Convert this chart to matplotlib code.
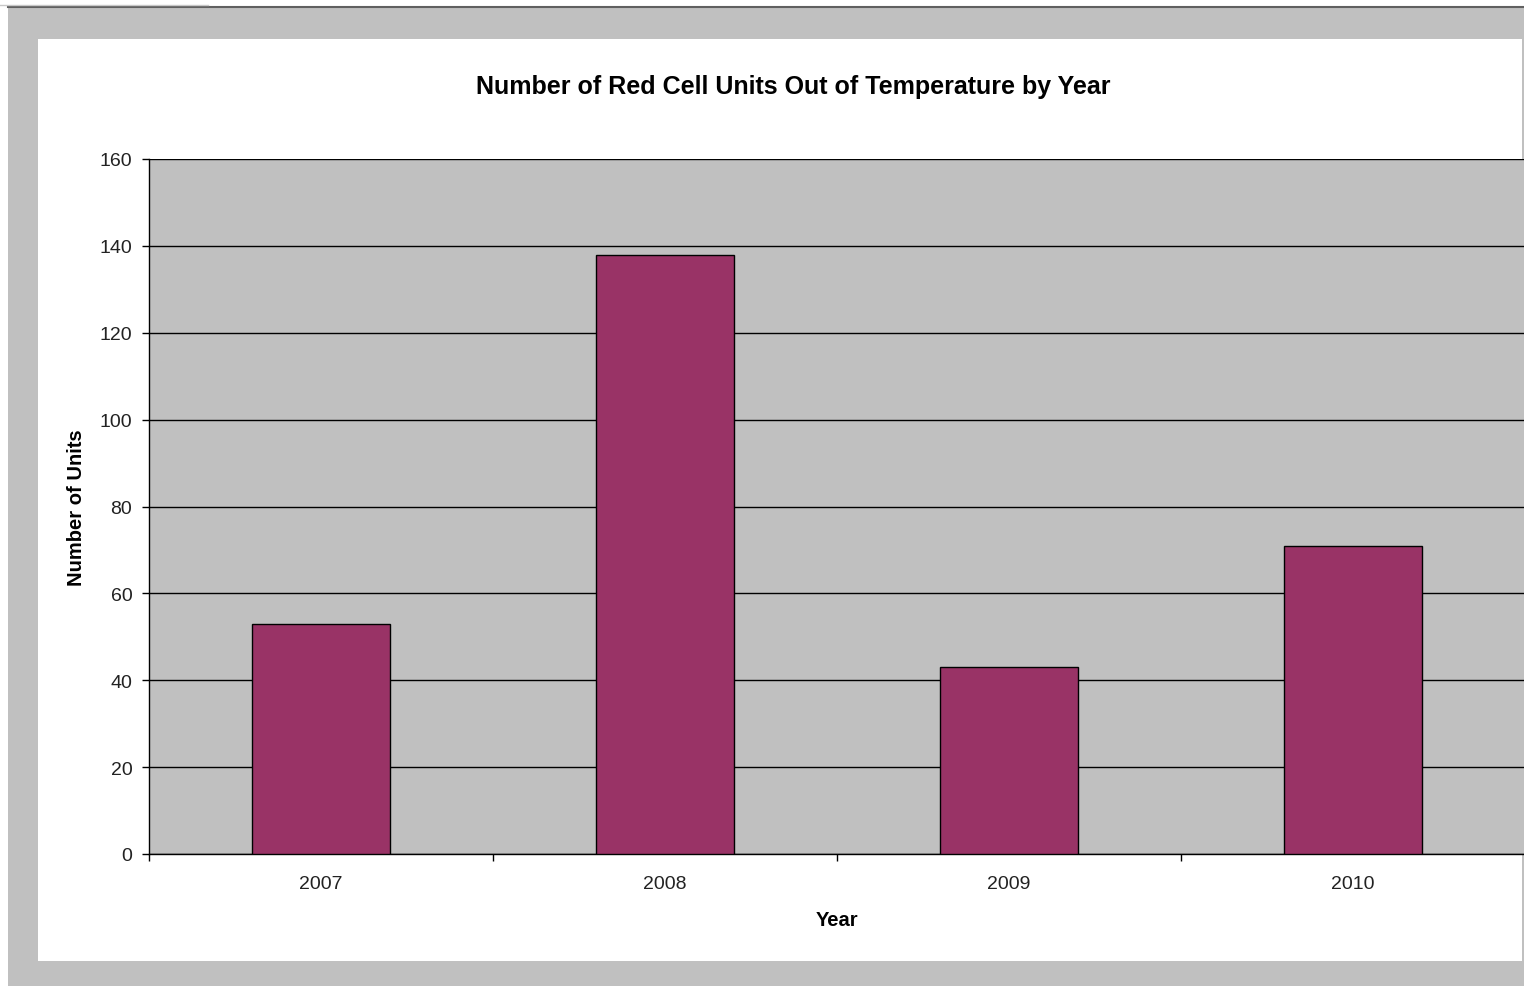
import matplotlib.pyplot as plt
from matplotlib.patches import Rectangle
from matplotlib.lines import Line2D

# Unidades de glóbulos vermelhos fora da temperatura, por ano
years = ['2007', '2008', '2009', '2010']
units = [53, 138, 43, 71]

bar_color = '#993366'
panel_gray = '#c0c0c0'

plt.rcParams['font.family'] = ['Liberation Sans', 'DejaVu Sans']

W, H = 1524, 987
fig = plt.figure(figsize=(W / 100, H / 100), dpi=100, facecolor='white')

# Moldura cinza em volta da área do gráfico
fig.patches.append(Rectangle((8 / W, 0), 1 - 8 / W, 1 - 9 / H, transform=fig.transFigure,
                             facecolor=panel_gray, edgecolor='none', zorder=-10))
fig.patches.append(Rectangle((38 / W, 1 - 962 / H), (1522 - 38) / W, (962 - 40) / H,
                             transform=fig.transFigure, facecolor='white',
                             edgecolor='none', zorder=-9))
fig.lines.append(Line2D([8 / W, 1], [1 - 8 / H, 1 - 8 / H], transform=fig.transFigure,
                        color='#606060', lw=1.5, zorder=-8))
fig.lines.append(Line2D([0, 208 / W], [1 - 6 / H, 1 - 6 / H], transform=fig.transFigure,
                        color='#c8c8c8', lw=1, zorder=-8))

left, right, top, bottom = 149, 1525, 160, 855
ax = fig.add_axes([left / W, 1 - bottom / H, (right - left) / W, (bottom - top) / H])
ax.set_facecolor(panel_gray)

x = range(len(years))
ax.bar(x, units, width=0.4, color=bar_color, edgecolor='black', linewidth=1, zorder=3)

ax.set_xlim(-0.5, len(years) - 0.5)
ax.set_ylim(0, 160)
ax.set_yticks(range(0, 161, 20))
ax.yaxis.grid(True, color='black', linewidth=1, zorder=1)
ax.set_axisbelow(True)

ax.set_xticks(list(x))
ax.set_xticklabels(years)
ax.set_xticks([i - 0.5 for i in range(len(years) + 1)], minor=True)
ax.tick_params(axis='x', which='major', length=0, pad=15, labelsize=14, labelcolor='#222222')
ax.tick_params(axis='x', which='minor', length=5, width=1, direction='out')
ax.tick_params(axis='y', length=5, width=1, direction='out', pad=7,
               labelsize=14, labelcolor='#222222')

for side in ['top', 'right']:
    ax.spines[side].set_visible(False)
for side in ['left', 'bottom']:
    ax.spines[side].set_color('black')
    ax.spines[side].set_linewidth(1)

ax.set_xlabel('Year', fontsize=14.5, fontweight='bold', labelpad=13)
ax.set_ylabel('Number of Units', fontsize=14.5, fontweight='bold', labelpad=10)
fig.text(793 / W, 1 - 87 / H, 'Number of Red Cell Units Out of Temperature by Year',
         ha='center', va='center', fontsize=18, fontweight='bold')

fig.savefig('out.png', dpi=100, facecolor='white')
